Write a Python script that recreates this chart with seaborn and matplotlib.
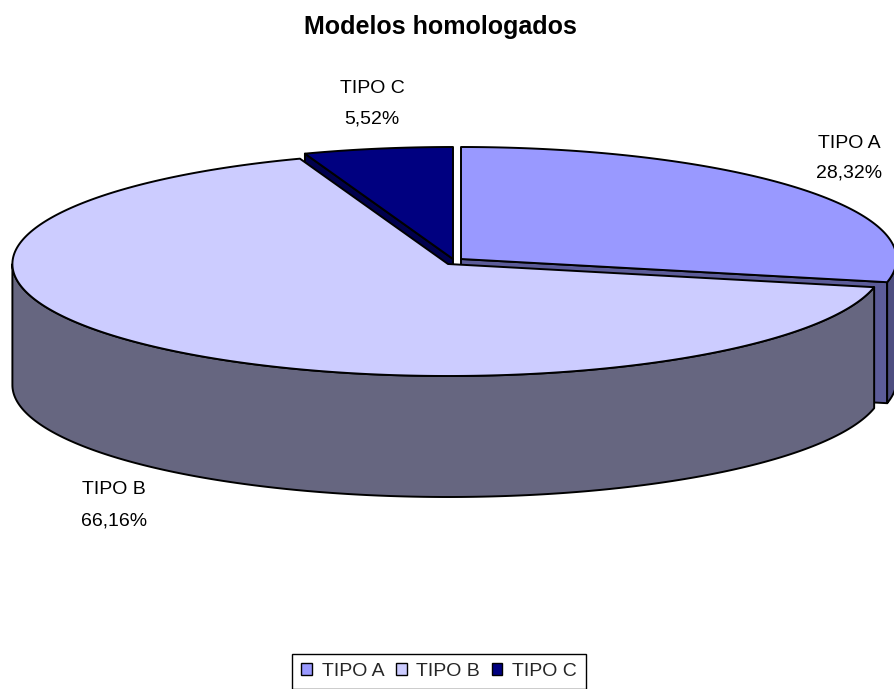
import numpy as np
import matplotlib
matplotlib.use("Agg")
import matplotlib.pyplot as plt
from matplotlib.patches import Polygon, Patch
import seaborn as sns

# data
labels = ["TIPO A", "TIPO B", "TIPO C"]
shares = [28.32, 66.16, 5.52]
pct_text = ["28,32%", "66,16%", "5,52%"]
title = "Modelos homologados"

top_colors = sns.color_palette(["#9999FF", "#CCCCFF", "#000080"])
wall_colors = sns.color_palette(["#4D4D80", "#666680", "#000040"])
cut_colors = sns.color_palette(["#5C5C99", "#7A7A99", "#00004D"])

# layout (pixel units of the 894x689 canvas)
W, H = 894, 689
CX, CY = 448, 264
RX, RY = 435.6, 112
DEPTH = 121
explode = [(13, -5), (0, 0), (5, -5)]
label_x = [849, 114, 372]
label_base = [(148, 178), (494, 525), (93, 123)]

sns.set_theme(style="white")
plt.rcParams["font.family"] = ["Liberation Sans", "DejaVu Sans"]


def rim(theta, cx, cy, z=0.0):
    t = np.radians(np.atleast_1d(theta))
    return np.column_stack([cx + RX * np.sin(t), cy - RY * np.cos(t) + z])


def arc(a, b, cx, cy, z=0.0):
    n = max(int(abs(b - a) * 2), 2)
    return rim(np.linspace(a, b, n), cx, cy, z)


def cut_face(theta, cx, cy):
    top = rim(theta, cx, cy)[0]
    bot = rim(theta, cx, cy, DEPTH)[0]
    return np.array([[cx, cy], top, bot, [cx, cy + DEPTH]])


fig = plt.figure(figsize=(W / 100, H / 100), dpi=100)
ax = fig.add_axes([0, 0, 1, 1])
ax.set_xlim(0, W)
ax.set_ylim(H, 0)
ax.axis("off")

edges = np.concatenate([[0], np.cumsum(shares)]) / sum(shares) * 360
mids = (edges[:-1] + edges[1:]) / 2
order = sorted(range(len(shares)), key=lambda i: -np.cos(np.radians(mids[i])))

kw = dict(edgecolor="black", linewidth=1.4, joinstyle="round")
for i in order:
    s, e = edges[i], edges[i + 1]
    cx, cy = CX + explode[i][0], CY + explode[i][1]
    # radial faces that look toward the viewer
    if np.sin(np.radians(s)) < -1e-6:
        ax.add_patch(Polygon(cut_face(s, cx, cy), facecolor=cut_colors[i], **kw))
    if np.sin(np.radians(e)) > 1e-6:
        ax.add_patch(Polygon(cut_face(e, cx, cy), facecolor=cut_colors[i], **kw))
    # outer wall, front half only
    a, b = max(s, 90), min(e, 270)
    if a < b:
        wall = np.vstack([arc(a, b, cx, cy), arc(b, a, cx, cy, DEPTH)])
        ax.add_patch(Polygon(wall, facecolor=wall_colors[i], **kw))
    # top face
    top = np.vstack([[cx, cy], arc(s, e, cx, cy)])
    ax.add_patch(Polygon(top, facecolor=top_colors[i], **kw))

for i in range(len(labels)):
    ax.text(label_x[i], label_base[i][0], labels[i], ha="center", va="baseline",
            fontsize=14, color="black")
    ax.text(label_x[i], label_base[i][1], pct_text[i], ha="center", va="baseline",
            fontsize=14, color="black")

ax.text(440, 34, title, ha="center", va="baseline", fontsize=18,
        fontweight="bold", color="black")

handles = [Patch(facecolor=c, edgecolor="black", linewidth=1) for c in top_colors]
leg = ax.legend(handles, labels, ncol=3, loc="upper center",
                bbox_to_anchor=(439 / W, 1 - 654 / H), fontsize=14,
                frameon=True, fancybox=False, framealpha=1, edgecolor="black",
                handlelength=0.55, handleheight=0.55, handletextpad=0.5,
                columnspacing=0.6, borderpad=0.45, borderaxespad=0)
leg.get_frame().set_linewidth(1)

fig.savefig("out.png", dpi=100)
